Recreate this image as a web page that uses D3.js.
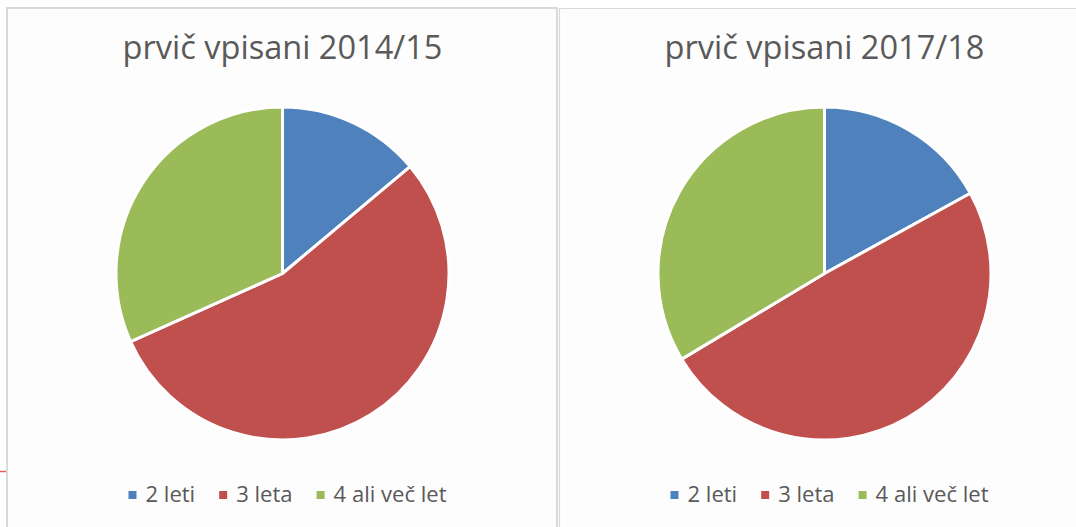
<!DOCTYPE html>
<html>
<head>
<meta charset="utf-8">
<script src="https://cdn.jsdelivr.net/npm/d3@7"></script>
<style>
  body { margin: 0; background: #fff; }
  svg { display: block; font-family: 'Open Sans', 'Liberation Sans', sans-serif; }
</style>
</head>
<body>
<script>
const WIDTH = 1076, HEIGHT = 527

// data (shares in %)
const categories = ['2 leti', '3 leta', '4 ali več let']
const titles = ['prvič vpisani 2014/15', 'prvič vpisani 2017/18']
const values2014 = [13.9, 54.4, 31.7]
const values2017 = [17.0, 49.4, 33.6]
const colors = ['#4f81bd', '#c0504d', '#9bbb59']

const RADIUS = 166.5
const LEGEND_GAP = 24
const PANELS = [
  { cx: 282.5, cy: 273.5, title: titles[0], values: values2014 },
  { cx: 824.5, cy: 273.5, title: titles[1], values: values2017 }
]

const svg = d3.select('body').append('svg')
  .attr('width', WIDTH)
  .attr('height', HEIGHT)

// chart frames
svg.append('rect').attr('x', 7).attr('y', 8).attr('width', 550).attr('height', 530)
  .attr('fill', '#fdfdfd')
svg.append('rect').attr('x', 559).attr('y', 8).attr('width', 530).attr('height', 530)
  .attr('fill', '#fdfdfd')
const frame = svg.append('g').attr('stroke', '#d9d9d9').attr('stroke-width', 2).attr('fill', 'none')
frame.append('path').attr('d', 'M7 ' + HEIGHT + 'V8H557V' + HEIGHT)
frame.append('path').attr('d', 'M559.5 ' + HEIGHT + 'V8.5H' + WIDTH).attr('stroke-width', 1.2)
svg.append('line').attr('x1', 0).attr('x2', 6).attr('y1', 471.5).attr('y2', 471.5)
  .attr('stroke', '#e06060').attr('stroke-width', 1.5)

const color = d3.scaleOrdinal().domain(categories).range(colors)
const pie = d3.pie().sort(null).value((d) => d.value)
const arc = d3.arc().innerRadius(0).outerRadius(RADIUS)

// fit font size so text spans a given width
function fitSize(sel, target) {
  let w = sel.node().getComputedTextLength()
  let s = parseFloat(sel.attr('font-size'))
  sel.attr('font-size', s * target / w)
  return s * target / w
}

PANELS.forEach((p) => {
  let g = svg.append('g')
  let rows = categories.map((c, i) => ({ key: c, value: p.values[i] }))

  g.append('g')
    .attr('transform', 'translate(' + [p.cx, p.cy] + ')')
    .selectAll('path')
    .data(pie(rows))
    .enter().append('path')
      .attr('d', arc)
      .attr('fill', (d) => color(d.data.key))
      .attr('stroke', '#fff')
      .attr('stroke-width', 3)
      .attr('stroke-linejoin', 'round')

  let title = g.append('text')
    .attr('x', p.cx)
    .attr('y', 59)
    .attr('text-anchor', 'middle')
    .attr('fill', '#595959')
    .attr('font-size', 26)
    .text(p.title)
  fitSize(title, 320)

  // legend
  let legend = g.append('g')
  let items = legend.selectAll('g').data(categories).enter().append('g')
  let labels = items.append('text')
    .attr('y', 502)
    .attr('fill', '#595959')
    .attr('font-size', 17)
    .text((d) => d)
  let size = fitSize(d3.select(labels.nodes()[2]), 113)
  labels.attr('font-size', size)
  items.append('rect')
    .attr('y', 491).attr('width', 8).attr('height', 8)
    .attr('fill', (d) => color(d))
  let widths = labels.nodes().map((n) => n.getComputedTextLength())
  let total = d3.sum(widths) + categories.length * 17 + (categories.length - 1) * LEGEND_GAP
  let x0 = p.cx + 5 - total / 2
  items.each(function(d, i) {
    d3.select(this).select('rect').attr('x', x0)
    d3.select(this).select('text').attr('x', x0 + 17)
    x0 += 17 + widths[i] + LEGEND_GAP
  })
})
</script>
</body>
</html>
